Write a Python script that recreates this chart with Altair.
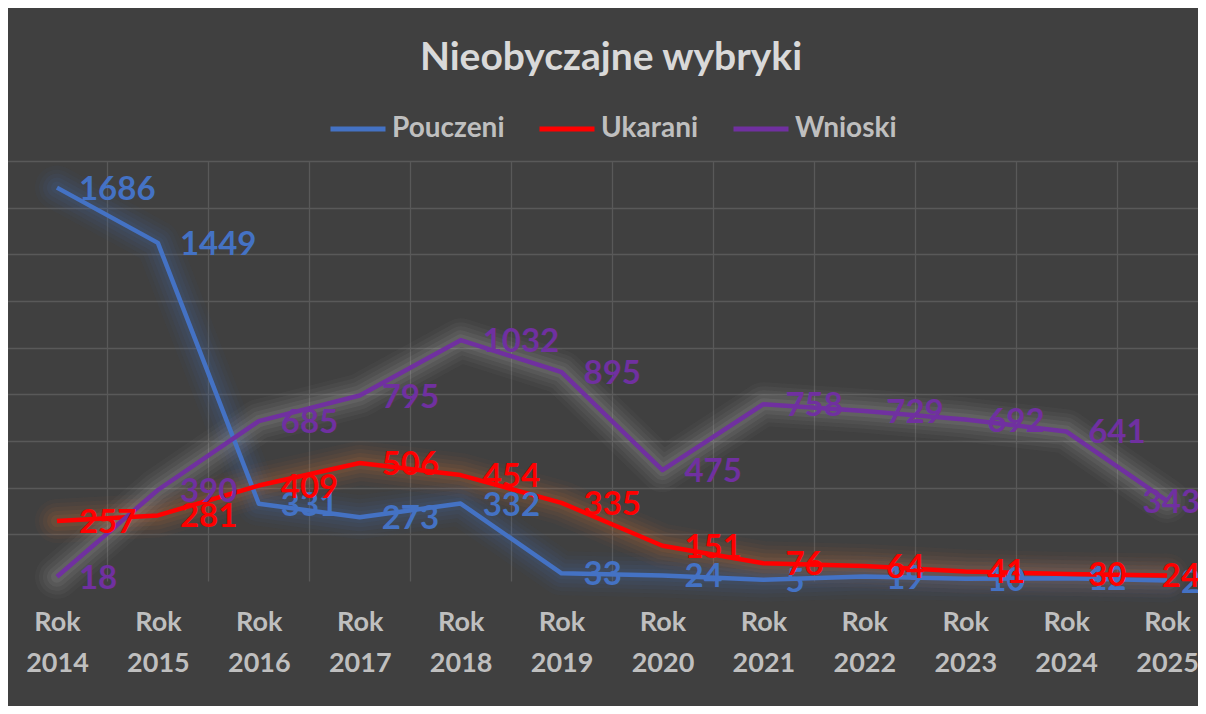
import altair as alt
import pandas as pd

years = ["Rok 2014", "Rok 2015", "Rok 2016", "Rok 2017", "Rok 2018", "Rok 2019",
         "Rok 2020", "Rok 2021", "Rok 2022", "Rok 2023", "Rok 2024", "Rok 2025"]
pouczeni = [1686, 1449, 331, 273, 332, 33, 24, 5, 19, 10, 12, 2]
ukarani = [257, 281, 409, 506, 454, 335, 151, 76, 64, 41, 30, 24]
wnioski = [18, 390, 685, 795, 1032, 895, 475, 758, 729, 692, 641, 343]
series_names = ["Pouczeni", "Ukarani", "Wnioski"]
line_colors = ["#4472C4", "#FF0000", "#7030A0"]
glow_colors = ["#4472C4", "#ED7D31", "#D0D0D0"]
y_grid = [200, 400, 600, 800, 1000, 1200, 1400, 1600, 1800]

rows = []
for name, vals in zip(series_names, [pouczeni, ukarani, wnioski]):
    for i, (yr, v) in enumerate(zip(years, vals)):
        rows.append({"rok": yr, "seria": name, "wartosc": v, "kolejnosc": i})
df = pd.DataFrame(rows)

BG = "#404040"
GRID = "#595959"
FONT = "Lato"

x = alt.X(
    "rok:N", sort=years,
    scale=alt.Scale(type="band", range=[-1.5, 1209.5], paddingInner=0, paddingOuter=0),
    axis=alt.Axis(title=None, labelExpr="split(datum.label, ' ')", labelAngle=0,
                  ticks=False, domain=False, grid=True, tickBand="extent",
                  gridColor=GRID, gridWidth=1.3, labelColor="#BFBFBF", labelFont=FONT,
                  labelFontWeight="bold", labelFontSize=27, labelLineHeight=41,
                  labelPadding=28),
)
y = alt.Y(
    "wartosc:Q",
    scale=alt.Scale(domain=[0, 1800], nice=False),
    axis=alt.Axis(title=None, labels=False, ticks=False, domain=False, grid=True,
                  values=y_grid, gridColor=GRID, gridWidth=1.3),
)
color = alt.Color(
    "seria:N",
    scale=alt.Scale(domain=series_names, range=line_colors),
    legend=alt.Legend(title=None, orient="none", legendX=320, legendY=-62,
                      direction="horizontal", symbolType="stroke",
                      symbolStrokeWidth=5, symbolSize=3025, labelFont=FONT,
                      labelFontWeight="bold", labelFontSize=28,
                      labelColor="#BFBFBF", labelOffset=4, columnPadding=24),
)
glow_stroke = alt.Stroke("seria:N",
                         scale=alt.Scale(domain=series_names, range=glow_colors),
                         legend=None)

base = alt.Chart(df)

glows = [
    base.mark_line(strokeWidth=w, opacity=o, strokeCap="round",
                   strokeJoin="round").encode(x=x, y=y, stroke=glow_stroke)
    for w, o in [(44, 0.035), (36, 0.045), (28, 0.055), (20, 0.065), (12, 0.08)]
]
lines = base.mark_line(strokeWidth=4.5, strokeJoin="round").encode(x=x, y=y, color=color)

labels = base.transform_filter("datum.rok != 'Rok 2025'").mark_text(
    align="left", baseline="middle", dx=22, dy=2, font=FONT, fontWeight="bold",
    fontSize=33).encode(x=x, y=y, text="wartosc:Q", color=color)
labels_last = base.transform_filter("datum.rok == 'Rok 2025'").mark_text(
    align="right", baseline="middle", dx=33, dy=2, font=FONT, fontWeight="bold",
    fontSize=33).encode(x=x, y=y, text="wartosc:Q", color=color)

chart = alt.layer(*glows, lines, labels, labels_last).resolve_scale(
    stroke="independent"
).properties(
    width=1190, height=420,
    title=alt.TitleParams("Nieobyczajne wybryki", font=FONT, fontSize=39,
                          fontWeight="bold", color="#D9D9D9", anchor="middle",
                          baseline="alphabetic", offset=20, dy=30, dx=8),
    autosize=alt.AutoSizeParams(type="none"),
    padding={"left": 0, "top": 153, "right": 0, "bottom": 125},
).configure(background=BG).configure_view(stroke=None)

chart.save("out.html", embed_options={"renderer": "svg", "actions": False})
